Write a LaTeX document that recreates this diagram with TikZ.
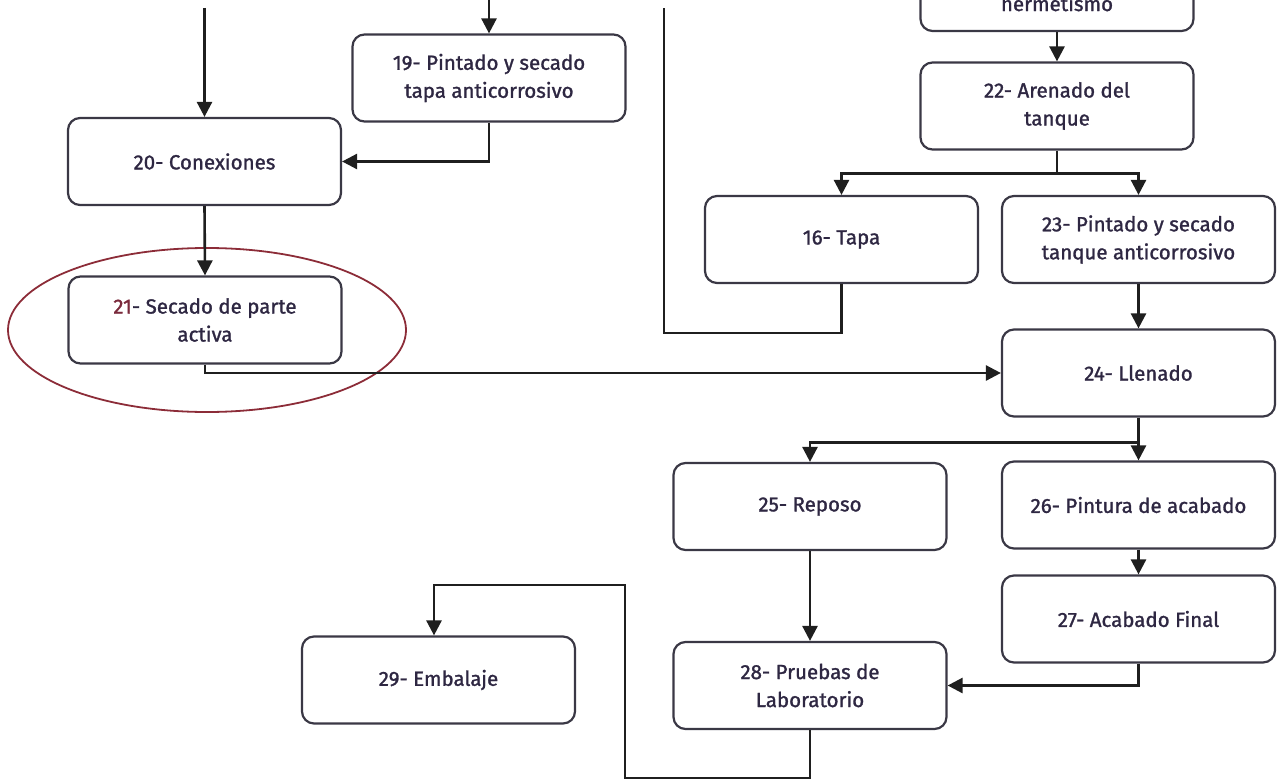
\documentclass[tikz,border=0pt]{standalone}
\usepackage{fontspec}
\setmainfont{Fira Sans}[FakeBold=1.3]
\usetikzlibrary{arrows.meta}
\definecolor{boxgray}{HTML}{3A3845}
\definecolor{txt}{HTML}{2E2742}
\definecolor{ellred}{HTML}{8C2C38}
\definecolor{numred}{HTML}{7A2A3C}
\tikzset{
  stepbox/.style={draw=boxgray, line width=2.2pt, rounded corners=12pt,
    minimum width=273pt, minimum height=87pt, align=center, text=txt,
    font=\fontsize{20.5}{28}\selectfont, inner sep=0pt},
  conn/.style={draw=black!88, line width=2.6pt,
    -{Triangle[width=15pt,length=15pt]}},
  wire/.style={draw=black!88, line width=2.6pt}
}
\begin{document}
\begin{tikzpicture}[x=1pt,y=-1pt]
\useasboundingbox (0,0) rectangle (1277,781);
\clip (0,0) rectangle (1277,781);

% process steps
\node[stepbox] (b0)  at (1057,-12.5) {21- Prueba de\\[4pt]hermetismo};
\node[stepbox] (b19) at (489,78)   {19- Pintado y secado\\tapa anticorrosivo};
\node[stepbox] (b20) at (204.5,161.5) {20- Conexiones};
\node[stepbox] (b21) at (205,320)  {\textcolor{numred}{21}- Secado de parte\\activa};
\node[stepbox] (b22) at (1057,106) {22- Arenado del\\tanque};
\node[stepbox] (b16) at (841.5,239.5) {16- Tapa};
\node[stepbox] (b23) at (1138.5,239.5) {23- Pintado y secado\\tanque anticorrosivo};
\node[stepbox] (b24) at (1138.5,373) {24- Llenado};
\node[stepbox] (b25) at (810,506.5) {25- Reposo};
\node[stepbox] (b26) at (1138.5,505) {26- Pintura de acabado};
\node[stepbox] (b27) at (1138.5,619) {27- Acabado Final};
\node[stepbox] (b28) at (810,685.5) {28- Pruebas de\\Laboratorio};
\node[stepbox] (b29) at (438.5,680) {29- Embalaje};

% highlight around step 21
\draw[ellred, line width=1.8pt] (207,330) ellipse [x radius=199pt, y radius=82pt];

% free ends and bends
\coordinate (in19) at (489,0);
\coordinate (in20) at (204.5,8);
\coordinate (out16) at (664,8);
\coordinate (c16) at (664,333);
\coordinate (k1) at (625,778);
\coordinate (k2) at (434,585);

% connectors
\draw[conn] (in19) -- (b19.north);
\draw[conn] (in20) -- (b20.north);
\draw[conn] (b19.south) |- (b20.east);
\draw[conn] (b20.south) -- (b21.north);
\draw[conn] (b21.south) |- (b24.west);
\draw[wire] (b16.south) |- (c16) -- (out16);
\draw[conn] (b0.south) -- (b22.north);
\draw[wire] (b22.south) -- ++(0,23) coordinate (j22);
\draw[conn] (j22) -| (b16.north);
\draw[conn] (j22) -| (b23.north);
\draw[conn] (b23.south) -- (b24.north);
\draw[wire] (b24.south) -- ++(0,25) coordinate (j24);
\draw[conn] (j24) -| (b25.north);
\draw[conn] (j24) -- (b26.north);
\draw[conn] (b26.south) -- (b27.north);
\draw[conn] (b25.south) -- (b28.north);
\draw[conn] (b27.south) |- (b28.east);
\draw[conn] (b28.south) |- (k1) |- (k2) -- (k2 |- b29.north);
\end{tikzpicture}
\end{document}
